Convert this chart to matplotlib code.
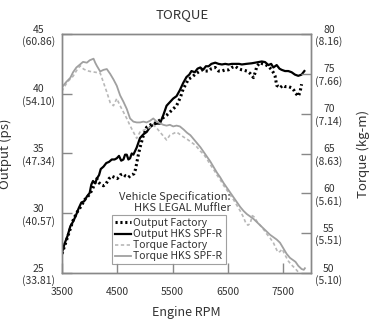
import matplotlib
matplotlib.use("Agg")
import matplotlib.pyplot as plt

plt.rcParams['font.family'] = ['Noto Sans CJK JP', 'DejaVu Sans']

# Output (ps), left axis
rpm_out_hks = [3500, 3550, 3600, 3650, 3700, 3750, 3800, 3850, 3900, 3950, 4000, 4030, 4060, 4100,
               4130, 4170, 4200, 4250, 4300, 4350, 4400, 4450, 4490, 4530, 4570, 4610, 4640, 4670,
               4700, 4730, 4760, 4790, 4820, 4850, 4910, 4970, 5030, 5090, 5150, 5210, 5270, 5330,
               5390, 5450, 5510, 5570, 5630, 5690, 5750, 5800, 5840, 5900, 5950, 6000, 6050, 6100,
               6150, 6200, 6270, 6330, 6390, 6450, 6510, 6570, 6630, 6700, 6750, 6830, 6930, 7050,
               7110, 7170, 7230, 7280, 7320, 7380, 7430, 7470, 7530, 7590, 7650, 7710, 7770, 7830, 7880]
out_hks = [26.7, 27.5, 28.1, 28.9, 29.3, 29.8, 30.4, 30.9, 31.0, 31.4, 31.7, 32.4, 32.7, 32.5,
           32.9, 33.2, 33.7, 33.9, 34.2, 34.3, 34.5, 34.5, 34.6, 34.8, 34.4, 34.5, 34.9, 34.9,
           34.5, 34.6, 35.0, 34.9, 35.2, 35.5, 36.3, 36.6, 36.8, 37.2, 37.4, 37.5, 37.5, 38.2,
           39.0, 39.3, 39.6, 39.8, 40.3, 40.9, 41.4, 41.6, 41.9, 41.8, 42.1, 42.2, 42.0, 42.3,
           42.3, 42.5, 42.6, 42.5, 42.45, 42.5, 42.45, 42.5, 42.5, 42.5, 42.45, 42.5, 42.55, 42.65,
           42.7, 42.65, 42.4, 42.5, 42.2, 42.4, 42.1, 42.0, 41.9, 41.9, 41.8, 41.6, 41.5, 41.6, 41.9]

rpm_out_fac = [3500, 3550, 3600, 3650, 3700, 3750, 3800, 3850, 3900, 3950, 4000, 4050, 4100, 4130,
               4160, 4200, 4250, 4300, 4350, 4400, 4450, 4500, 4550, 4600, 4650, 4700, 4750, 4800,
               4830, 4850, 4880, 4910, 4970, 5030, 5100, 5210, 5300, 5390, 5480, 5570, 5640, 5690,
               5750, 5780, 5850, 5900, 5960, 6030, 6080, 6150, 6200, 6270, 6330, 6390, 6450, 6510,
               6570, 6630, 6690, 6750, 6800, 6840, 6900, 6960, 7000, 7020, 7080, 7130, 7170, 7230,
               7290, 7330, 7350, 7380, 7420, 7440, 7490, 7530, 7590, 7650, 7690, 7710, 7750, 7770,
               7800, 7830]
out_fac = [26.6, 27.3, 28.0, 28.7, 29.4, 29.9, 30.3, 30.6, 31.1, 31.3, 31.6, 32.0, 32.6, 32.9,
           32.6, 32.4, 32.3, 32.5, 32.9, 33.1, 33.0, 32.9, 33.2, 33.3, 33.1, 33.0, 33.2, 33.3,
           33.7, 34.2, 34.9, 35.5, 36.5, 37.2, 37.4, 37.6, 37.9, 38.2, 38.6, 39.0, 39.7, 40.4,
           40.9, 41.2, 41.4, 41.6, 41.8, 42.0, 41.9, 41.9, 42.1, 42.2, 41.9, 41.9, 42.0, 42.0,
           42.2, 42.3, 42.1, 42.0, 41.95, 41.9, 41.7, 41.35, 41.9, 42.3, 42.6, 42.5, 42.45, 42.3,
           42.0, 41.7, 41.5, 40.7, 40.6, 40.5, 40.7, 40.6, 40.6, 40.5, 40.3, 40.1, 39.9, 39.8,
           40.1, 40.8]

# Torque (kg-m), right axis
rpm_trq_hks = [3500, 3520, 3580, 3650, 3700, 3760, 3830, 3880, 3950, 4000, 4070, 4100, 4130, 4190,
               4250, 4310, 4370, 4430, 4490, 4550, 4610, 4670, 4730, 4790, 4850, 4910, 4970, 5030,
               5090, 5150, 5210, 5270, 5330, 5390, 5450, 5510, 5570, 5630, 5700, 5760, 5820, 5880,
               5940, 6000, 6060, 6120, 6180, 6240, 6300, 6360, 6420, 6480, 6540, 6600, 6660, 6720,
               6780, 6840, 6900, 6960, 7020, 7080, 7140, 7200, 7260, 7320, 7380, 7440, 7500, 7560,
               7620, 7680, 7720, 7770, 7830, 7870, 7890]
trq_hks = [73.3, 73.5, 74.0, 74.5, 75.2, 75.8, 76.2, 76.5, 76.4, 76.7, 76.9, 76.4, 76.0, 75.3,
           75.5, 75.6, 75.0, 74.3, 73.5, 72.3, 71.5, 70.6, 69.4, 69.0, 68.9, 68.9, 69.0, 68.9,
           69.1, 69.4, 69.0, 68.8, 68.6, 68.5, 68.6, 68.4, 68.5, 68.4, 68.0, 67.6, 67.3, 66.8,
           66.3, 65.8, 65.2, 64.6, 64.0, 63.3, 62.6, 62.0, 61.3, 60.7, 60.1, 59.5, 58.9, 58.3,
           57.8, 57.4, 57.1, 56.8, 56.4, 56.0, 55.6, 55.2, 54.8, 54.5, 54.2, 53.8, 53.1, 52.4,
           51.9, 51.6, 51.4, 50.9, 50.5, 50.4, 50.6]

rpm_trq_fac = [3500, 3520, 3600, 3700, 3780, 3830, 3890, 3950, 4010, 4100, 4190, 4250, 4310, 4370,
               4430, 4490, 4550, 4610, 4670, 4730, 4790, 4850, 4910, 4970, 5030, 5090, 5150, 5210,
               5270, 5330, 5390, 5450, 5510, 5570, 5630, 5690, 5760, 5820, 5880, 5940, 6000, 6060,
               6120, 6180, 6240, 6300, 6360, 6420, 6480, 6540, 6600, 6660, 6720, 6780, 6820, 6860,
               6900, 6940, 6980, 7020, 7080, 7140, 7200, 7260, 7320, 7360, 7400, 7440, 7480, 7520,
               7590, 7650, 7710, 7760, 7800]
trq_fac = [72.8, 73.1, 74.0, 74.7, 75.6, 76.0, 75.6, 75.4, 75.3, 75.2, 75.1, 73.9, 72.7, 71.4,
           71.0, 71.9, 71.0, 70.2, 69.4, 68.5, 67.7, 66.9, 67.7, 67.9, 68.1, 68.3, 68.6, 68.2,
           67.7, 67.2, 66.7, 67.3, 67.5, 67.7, 67.4, 67.1, 66.8, 66.5, 66.2, 65.8, 65.3, 64.9,
           64.3, 63.6, 63.0, 62.3, 61.7, 61.0, 60.4, 59.8, 59.2, 58.5, 57.8, 57.0, 56.3, 56.0,
           56.2, 57.2, 57.0, 56.5, 56.0, 55.5, 54.9, 54.4, 53.8, 53.2, 52.6, 52.7, 53.0, 52.4,
           51.5, 51.0, 50.6, 50.2, 50.0]

x_ticks = [3500, 4500, 5500, 6500, 7500]
out_ticks = [25, 30, 35, 40, 45]
out_labels = ['25\n(33.81)', '30\n(40.57)', '35\n(47.34)', '40\n(54.10)', '45\n(60.86)']
trq_ticks = [50, 55, 60, 65, 70, 75, 80]
trq_labels = ['50\n(5.10)', '55\n(5.51)', '60\n(5.61)', '65\n(8.63)', '70\n(7.14)', '75\n(7.66)', '80\n(8.16)']

text_col = '#333333'
frame_col = '#888888'

fig = plt.figure(figsize=(3.7, 3.25), dpi=100)
ax = fig.add_axes([62 / 370, 1 - 273 / 325, 249 / 370, 239 / 325])
ax2 = ax.twinx()

ax.plot(rpm_out_fac, out_fac, color='black', lw=2.2, linestyle=(0, (0.7, 0.9)),
        label='Output Factory', zorder=4)
ax.plot(rpm_out_hks, out_hks, color='black', lw=1.6, label='Output HKS SPF-R', zorder=5)
ax2.plot(rpm_trq_fac, trq_fac, color='#b8b8b8', lw=1.2, linestyle=(0, (2, 1.5)),
         label='Torque Factory')
ax2.plot(rpm_trq_hks, trq_hks, color='#a0a0a0', lw=1.3, label='Torque HKS SPF-R')

ax.set_xlim(3500, 8000)
ax.set_ylim(25, 45)
ax2.set_ylim(50, 80)
ax.set_xticks(x_ticks)
ax.set_yticks(out_ticks)
ax.set_yticklabels(out_labels)
ax2.set_yticks(trq_ticks)
ax2.set_yticklabels(trq_labels)

for a in (ax, ax2):
    for s in a.spines.values():
        s.set_color(frame_col)
        s.set_linewidth(1.0)
    a.tick_params(direction='in', length=7, width=1.0, color=frame_col,
                  labelsize=7.5, labelcolor=text_col)
ax.tick_params(axis='y', pad=5)
ax.tick_params(axis='x', pad=10)
ax2.tick_params(axis='y', pad=3)
for lbl in ax.get_yticklabels() + ax2.get_yticklabels():
    lbl.set_multialignment('center')

ax.set_xlabel('Engine RPM', fontsize=9, color=text_col)
ax.xaxis.set_label_coords(0.5, -0.14)
ax.set_ylabel('Output (ps)', fontsize=9.5, color=text_col)
ax.yaxis.set_label_coords(-0.2, 0.5)
ax2.set_ylabel('Torque (kg-m)', fontsize=9.5, color=text_col)
ax2.yaxis.set_label_coords(1.185, 0.5)

fig.text(0.492, 1 - 15 / 325, 'TORQUE', fontsize=9.5, color=text_col, ha='center', va='center')
fig.text(231 / 370, 1 - 202 / 325, 'Vehicle Specification:\nHKS LEGAL Muffler', fontsize=8,
         color=text_col, ha='right', va='center', multialignment='right', linespacing=1.05)

h1, l1 = ax.get_legend_handles_labels()
h2, l2 = ax2.get_legend_handles_labels()
leg = ax.legend(h1 + h2, l1 + l2, loc='upper left', bbox_to_anchor=(112 / 370, 1 - 215 / 325),
                bbox_transform=fig.transFigure, fontsize=7.5, frameon=True, fancybox=False,
                handlelength=1.5, handletextpad=0.25, labelspacing=0.1, borderpad=0.3,
                borderaxespad=0)
leg.get_frame().set_edgecolor(frame_col)
leg.get_frame().set_linewidth(0.8)
for t in leg.get_texts():
    t.set_color(text_col)
leg.set_zorder(10)

fig.savefig('out.png', dpi=100)
